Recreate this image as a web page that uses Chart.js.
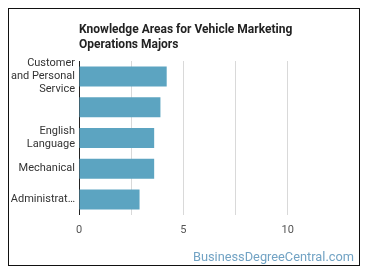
<!DOCTYPE html>
<html>
<head>
<meta charset="utf-8">
<script src="https://cdn.jsdelivr.net/npm/chart.js@4/dist/chart.umd.min.js"></script>
<style>
  body { margin: 0; background: #fff; font-family: Roboto, sans-serif; }
  #box {
    position: absolute; left: 8px; top: 8px; width: 352px; height: 258px;
    border: 1px solid #111; box-sizing: border-box;
  }
  #box canvas { position: absolute; left: 0; top: 0; }
  #mark {
    position: absolute; right: 5px; bottom: 1px;
    font-size: 12.8px; color: #72a3c4; font-family: Roboto, sans-serif;
  }
</style>
</head>
<body>
<div id="box">
  <canvas id="chart" width="350" height="256"></canvas>
  <div id="mark">BusinessDegreeCentral.com</div>
</div>
<script>
const titleLines = ['Knowledge Areas for Vehicle Marketing', 'Operations Majors'];
const categories = [
  ['Customer', 'and Personal', 'Service'],
  '',
  ['English', 'Language'],
  'Mechanical',
  'Administrat…'
];
const values = [4.2, 3.9, 3.6, 3.6, 2.9];
const axisMax = 12.5;

let chartBar;

function createBarChart(ctx) {
  if (chartBar) chartBar.destroy();
  chartBar = new Chart(ctx, {
    type: 'bar',
    data: {
      labels: categories,
      datasets: [{
        data: values,
        backgroundColor: '#5ca4c1',
        borderWidth: 0,
        barPercentage: 0.65,
        categoryPercentage: 1
      }]
    },
    options: {
      indexAxis: 'y',
      responsive: false,
      animation: false,
      layout: { padding: { left: 0, right: 19, top: 0, bottom: 19 } },
      plugins: {
        legend: { display: false },
        tooltip: { enabled: false },
        title: {
          display: true,
          text: titleLines,
          align: 'start',
          fullSize: false,
          color: '#222',
          font: { family: 'Roboto', size: 12, weight: 'bold', lineHeight: 1.25 },
          padding: { top: 13, bottom: 9 }
        }
      },
      scales: {
        x: {
          min: 0,
          max: axisMax,
          ticks: {
            stepSize: 2.5,
            color: '#555',
            font: { family: 'Roboto', size: 11 },
            padding: 9,
            callback: v => (v % 5 === 0 && v < axisMax) ? String(v) : ''
          },
          grid: {
            drawTicks: false,
            color: c => (c.tick && c.tick.value >= axisMax) ? 'rgba(0,0,0,0)' : '#d9d9d9'
          },
          border: { display: false }
        },
        y: {
          afterFit: s => { s.width = 70; },
          ticks: {
            color: '#333',
            font: { family: 'Roboto', size: 11, lineHeight: 1.2 },
            padding: 4,
            autoSkip: false
          },
          grid: { display: false, drawTicks: false },
          border: { display: true, color: '#222', width: 1 }
        }
      }
    }
  });
}

createBarChart(document.getElementById('chart'));
</script>
</body>
</html>
